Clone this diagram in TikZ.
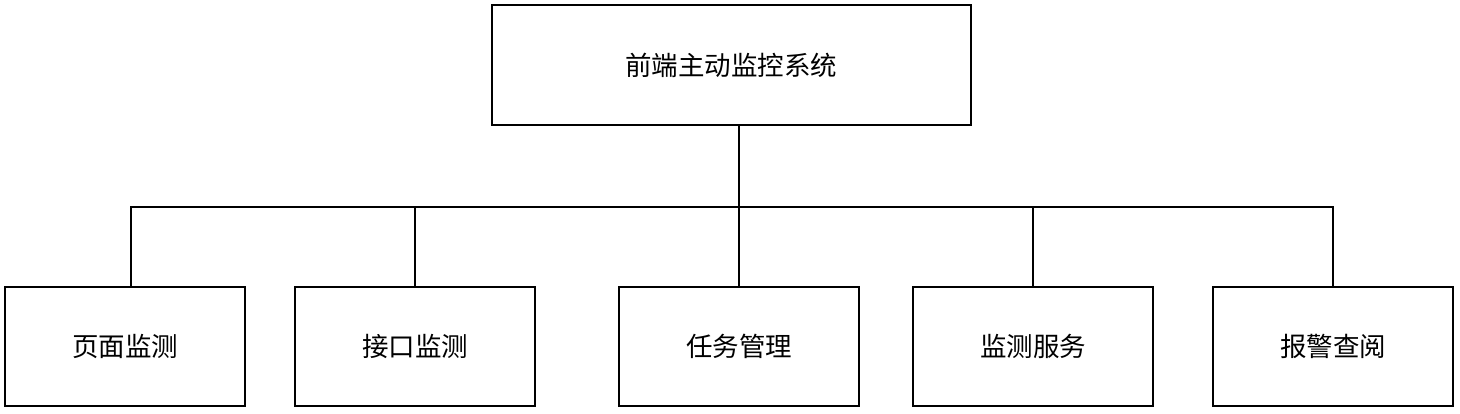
\documentclass[tikz,border=0pt]{standalone}
\usepackage{fontspec}
\newfontfamily\cjk{Noto Sans CJK SC}
\begin{document}
\begin{tikzpicture}[x=1pt,y=-1pt,
  box/.style={draw=black,line width=2pt,fill=white,inner sep=0pt,
    font=\cjk\fontsize{26.5}{30}\selectfont},
  conn/.style={draw=black,line width=2pt}]
\useasboundingbox (0,0) rectangle (1460,414);
\node[box,minimum width=479pt,minimum height=120pt] (top) at (731,65.5) {前端主动监控系统};
\node[box,minimum width=240pt,minimum height=119pt] (b1) at (125,346.5) {页面监测};
\node[box,minimum width=240pt,minimum height=119pt] (b2) at (415,346.5) {接口监测};
\node[box,minimum width=240pt,minimum height=119pt] (b3) at (739,346.5) {任务管理};
\node[box,minimum width=240pt,minimum height=119pt] (b4) at (1033,346.5) {监测服务};
\node[box,minimum width=240pt,minimum height=119pt] (b5) at (1333,346.5) {报警查阅};
\coordinate (j1) at (131,207);
\coordinate (j2) at (415,207);
\coordinate (j3) at (739,207);
\coordinate (j4) at (1033,207);
\coordinate (j5) at (1333,207);
\draw[conn] (j1 |- b1.north) -- (j1) -- (j5) -- (j5 |- b5.north);
\draw[conn] (top.south -| j3) -- (b3.north);
\draw[conn] (j2) -- (j2 |- b2.north);
\draw[conn] (j4) -- (j4 |- b4.north);
\end{tikzpicture}
\end{document}
